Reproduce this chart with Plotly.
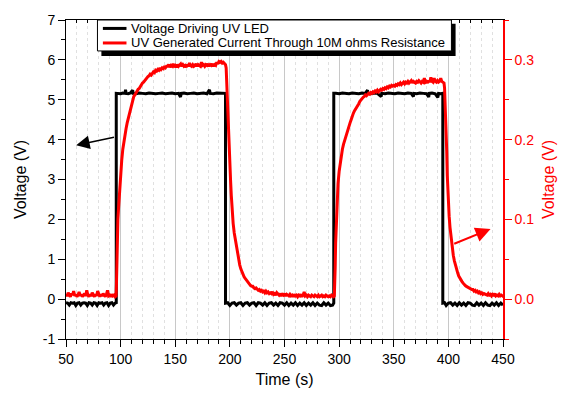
import plotly.graph_objects as go

# ---------------- data ----------------
volt_t = [50, 51.5, 53, 54.5, 56, 57.5, 59, 60.5, 62, 63.5, 65, 66.5, 68, 69.5, 71, 72.5, 74, 75.5,
          77, 78.5, 80, 81.5, 83, 84.5, 86, 87.5, 89, 90.5, 92, 93.5, 95, 96,
          96, 98, 100, 102, 104, 104.5, 105, 107, 109, 111, 111.5, 114, 117, 120, 123, 126, 129, 132,
          135, 138, 141, 144, 147, 150, 153, 154.8, 155.5, 158, 161, 164, 167, 170, 173, 176, 179,
          181.3, 182, 185, 188, 191, 194, 196,
          196, 198, 200, 202, 204, 206, 208, 210, 212, 214, 216, 218, 220, 222, 224, 226, 228, 230,
          232, 234, 236, 238, 240, 242, 244, 246, 248, 250, 252, 254, 256, 258, 260, 262, 264, 266,
          268, 270, 272, 274, 276, 278, 280, 282, 284, 286, 288, 290, 292, 294, 295.1,
          295.1, 297, 300, 303, 306, 309, 312, 315, 318, 321, 324, 326, 326.5, 329, 332, 335, 338.5,
          339, 342, 345, 348, 351, 354, 357, 360, 363, 366, 368, 368.5, 371, 374, 377, 380, 382,
          382.5, 385, 388, 390.3, 391, 393, 394.9,
          394.9, 396.5, 398, 400, 402, 404, 406, 408, 410, 412, 414, 416, 418, 420, 422, 424, 426,
          428, 430, 432, 434, 436, 438, 440, 442, 444, 446, 448, 450]
volt_v = [-0.09, -0.10, -0.15, -0.09, -0.10, -0.09, -0.16, -0.10, -0.09, -0.15, -0.10, -0.09, -0.10,
          -0.16, -0.09, -0.10, -0.15, -0.09, -0.10, -0.16, -0.09, -0.10, -0.09, -0.15, -0.10, -0.09,
          -0.16, -0.10, -0.09, -0.15, -0.10, -0.09,
          5.16, 5.16, 5.15, 5.17, 5.16, 5.25, 5.16, 5.15, 5.17, 5.24, 5.16, 5.15, 5.17, 5.16, 5.15,
          5.17, 5.16, 5.15, 5.16, 5.17, 5.15, 5.16, 5.17, 5.15, 5.16, 5.07, 5.16, 5.17, 5.15, 5.16,
          5.17, 5.15, 5.16, 5.17, 5.15, 5.25, 5.16, 5.15, 5.17, 5.16, 5.15, 5.16,
          -0.10, -0.09, -0.16, -0.10, -0.09, -0.15, -0.10, -0.09, -0.16, -0.10, -0.09, -0.15, -0.10,
          -0.09, -0.16, -0.09, -0.10, -0.15, -0.09, -0.16, -0.10, -0.09, -0.15, -0.10, -0.16, -0.09,
          -0.10, -0.15, -0.09, -0.16, -0.10, -0.15, -0.09, -0.16, -0.10, -0.15, -0.09, -0.16, -0.10,
          -0.15, -0.09, -0.16, -0.10, -0.15, -0.16, -0.09, -0.15, -0.10, -0.16, -0.15, -0.10,
          5.16, 5.16, 5.15, 5.17, 5.16, 5.15, 5.17, 5.16, 5.15, 5.17, 5.16, 5.24, 5.16, 5.15, 5.17,
          5.16, 5.08, 5.16, 5.15, 5.17, 5.16, 5.15, 5.17, 5.16, 5.15, 5.17, 5.16, 5.08, 5.16, 5.15,
          5.17, 5.16, 5.15, 5.07, 5.16, 5.17, 5.15, 5.06, 5.16, 5.15, 5.16,
          -0.10, -0.09, -0.16, -0.10, -0.09, -0.15, -0.10, -0.16, -0.09, -0.15, -0.10, -0.16, -0.09,
          -0.10, -0.15, -0.16, -0.09, -0.15, -0.10, -0.16, -0.09, -0.15, -0.16, -0.10, -0.15, -0.09,
          -0.16, -0.10, -0.15]

curr_t = [50, 51, 52, 53, 54, 55, 56, 57, 58, 59, 60, 61, 62, 63, 64, 65, 66, 67, 68, 69, 70, 71,
          72, 73, 74, 75, 76, 77, 78, 79, 80, 81, 82, 83, 84, 85, 86, 87, 88, 89, 90, 91, 92, 93, 94,
          95, 95.8,
          96.2, 96.6, 97, 97.5, 98, 98.5, 99, 99.6, 100.2, 101, 102, 103, 104, 105, 106, 107, 108,
          109, 110, 111, 112, 113, 114, 115, 116, 117, 118, 119, 120, 121, 122, 123, 124, 125, 126,
          127, 128, 129, 130, 131, 132, 133, 134, 135, 136, 137, 138, 139, 140, 141, 142,
          143, 144, 145, 146, 147, 148, 149, 150, 151, 152, 153, 154, 155, 156, 157, 158, 159, 160,
          161, 162, 163, 164, 165, 166, 167, 168, 169, 170, 171, 172, 173, 174, 175, 176, 177, 178,
          179, 180, 181, 182, 183, 184, 185, 186, 187, 188, 189, 190, 191, 192, 193, 194, 195, 196,
          196.6,
          197, 197.5, 198, 198.5, 199, 199.5, 200, 200.6, 201.3, 202, 203, 204, 205, 206, 207, 208,
          209, 210, 211, 212, 213, 214, 215, 216, 217, 218, 219, 220, 221, 222, 223, 224, 225, 226,
          227, 228, 229, 230, 231, 232, 233, 234, 235, 236, 237, 238, 239, 240,
          241, 242, 243, 244, 245, 246, 247, 248, 249, 250, 251, 252, 253, 254, 255, 256, 257, 258,
          259, 260, 261, 262, 263, 264, 265, 266, 267, 268, 269, 270, 271, 272, 273, 274, 275, 276,
          277, 278, 279, 280, 281, 282, 283, 284, 285, 286, 287, 288, 289, 290, 291, 292, 293, 294,
          295, 295.6,
          296, 296.4, 296.8, 297.3, 297.8, 298.2, 299, 300, 301, 302, 303, 304, 305, 306, 307, 308,
          309, 310, 311, 312, 313, 314, 315, 316, 317, 318, 319, 320, 321, 322, 323, 324, 325, 326,
          327, 328, 329, 330, 331, 332, 333, 334, 335, 336, 337, 338, 339, 340, 341, 342, 343, 344,
          345, 346, 347, 348, 349, 350, 351, 352, 353, 354, 355, 356, 357, 358, 359, 360,
          361, 362, 363, 364, 365, 366, 367, 368, 369, 370, 371, 372, 373, 374, 375, 376, 377, 378,
          379, 380, 381, 382, 383, 384, 385, 386, 387, 388, 389, 390, 391, 392, 393, 394, 395, 396,
          396.5,
          397, 397.5, 398, 398.5, 399, 399.5, 400, 400.7, 401.5, 402.5, 403.5, 404.5, 405.5, 406.5,
          407.5, 408.5, 409.5, 410.5, 411.5, 412.5, 413.5, 414.5, 415.5, 416.5, 417.5, 418.5, 419.5,
          420.5, 421.5, 422.5, 423.5, 424.5, 425.5, 426.5, 427.5, 428.5, 429.5, 430.5, 431.5, 432.5,
          433.5, 434.5, 435.5, 436.5, 437.5, 438.5, 439.5, 440.5, 441.5, 442.5, 443.5, 444.5, 445.5,
          446.5, 447.5, 448.5, 449.5, 450]
curr_i = [0.006, 0.004, 0.008, 0.005, 0.003, 0.007, 0.005, 0.010, 0.004, 0.006, 0.003, 0.005, 0.009,
          0.004, 0.006, 0.003, 0.005, 0.007, 0.004, 0.011, 0.005, 0.003, 0.006, 0.004, 0.008, 0.005,
          0.003, 0.006, 0.004, 0.010, 0.005, 0.003, 0.006, 0.004, 0.007, 0.004, 0.003, 0.006, 0.011,
          0.004, 0.005, 0.003, 0.006, 0.004, 0.005, 0.003, 0.004,
          0.020, 0.060, 0.085, 0.100, 0.112, 0.125, 0.140, 0.150, 0.160, 0.174, 0.188, 0.198, 0.207,
          0.214, 0.221, 0.227, 0.232, 0.238, 0.245, 0.250, 0.254, 0.256, 0.259, 0.261, 0.263, 0.264,
          0.267, 0.268, 0.271, 0.272, 0.274, 0.276, 0.277, 0.279, 0.280, 0.282, 0.281, 0.283, 0.285,
          0.284, 0.287, 0.286, 0.288, 0.287, 0.290, 0.288, 0.290, 0.289, 0.291, 0.290, 0.292,
          0.292, 0.294, 0.291, 0.293, 0.292, 0.295, 0.292, 0.293, 0.291, 0.294, 0.292, 0.293, 0.295,
          0.292, 0.294, 0.292, 0.293, 0.291, 0.294, 0.292, 0.296, 0.293, 0.292, 0.294, 0.292, 0.293,
          0.295, 0.292, 0.294, 0.293, 0.292, 0.297, 0.293, 0.294, 0.292, 0.294, 0.293, 0.295, 0.292,
          0.294, 0.293, 0.295, 0.292, 0.294, 0.293, 0.297, 0.295, 0.298, 0.297, 0.298, 0.296, 0.297,
          0.295, 0.294, 0.290,
          0.275, 0.255, 0.230, 0.210, 0.190, 0.175, 0.162, 0.150, 0.130, 0.112, 0.095, 0.083, 0.074,
          0.065, 0.056, 0.049, 0.043, 0.038, 0.034, 0.031, 0.028, 0.026, 0.024, 0.022, 0.020, 0.019,
          0.017, 0.016, 0.016, 0.014, 0.013, 0.014, 0.012, 0.011, 0.012, 0.010, 0.011, 0.009, 0.010,
          0.008, 0.010, 0.008, 0.009, 0.007, 0.008, 0.007, 0.009, 0.006,
          0.007, 0.005, 0.008, 0.006, 0.005, 0.007, 0.004, 0.006, 0.005, 0.007, 0.004, 0.006, 0.005,
          0.004, 0.006, 0.004, 0.005, 0.003, 0.006, 0.004, 0.005, 0.003, 0.005, 0.004, 0.006, 0.003,
          0.005, 0.009, 0.004, 0.005, 0.003, 0.005, 0.004, 0.003, 0.005, 0.004, 0.003, 0.005, 0.004,
          0.003, 0.005, 0.003, 0.004, 0.005, 0.003, 0.004, 0.003, 0.005, 0.004, 0.003, 0.004, 0.003,
          0.005, 0.004, 0.003, 0.004,
          0.015, 0.040, 0.070, 0.091, 0.110, 0.128, 0.145, 0.160, 0.172, 0.181, 0.188, 0.194, 0.199,
          0.204, 0.208, 0.212, 0.217, 0.221, 0.225, 0.230, 0.233, 0.236, 0.238, 0.241, 0.243, 0.245,
          0.248, 0.250, 0.251, 0.253, 0.254, 0.256, 0.255, 0.257, 0.258, 0.257, 0.259, 0.258, 0.260,
          0.259, 0.261, 0.260, 0.262, 0.260, 0.261, 0.263, 0.262, 0.264, 0.263, 0.265, 0.264, 0.266,
          0.265, 0.267, 0.266, 0.268, 0.267, 0.268, 0.267, 0.269, 0.268, 0.270, 0.269, 0.271, 0.269,
          0.270, 0.272, 0.270,
          0.272, 0.271, 0.273, 0.271, 0.272, 0.274, 0.271, 0.273, 0.272, 0.271, 0.273, 0.272, 0.274,
          0.272, 0.271, 0.273, 0.272, 0.277, 0.272, 0.273, 0.271, 0.274, 0.272, 0.278, 0.273, 0.272,
          0.277, 0.273, 0.272, 0.274, 0.272, 0.273, 0.277, 0.273, 0.272, 0.271, 0.265,
          0.250, 0.232, 0.212, 0.185, 0.155, 0.133, 0.118, 0.104, 0.090, 0.075, 0.064, 0.055, 0.048,
          0.042, 0.037, 0.033, 0.029, 0.026, 0.024, 0.022, 0.020, 0.018, 0.017, 0.016, 0.015, 0.014,
          0.013, 0.013, 0.012, 0.012, 0.010, 0.011, 0.009, 0.010, 0.008, 0.009, 0.007, 0.008, 0.006,
          0.007, 0.006, 0.006, 0.005, 0.007, 0.005, 0.006, 0.004, 0.006, 0.005, 0.007, 0.004, 0.005,
          0.004, 0.006, 0.004, 0.005, 0.004, 0.005]

x_ticks = [50, 100, 150, 200, 250, 300, 350, 400, 450]
y_left_ticks = [-1, 0, 1, 2, 3, 4, 5, 6, 7]
y_left_labels = ["-1", "0", "1", "2", "3", "4", "5", "6", "7"]
y_right_ticks = [0.0, 0.1, 0.2, 0.3]
y_right_labels = ["0.0", "0.1", "0.2", "0.3"]

legend_names = ["Voltage Driving UV LED", "UV Generated Current Through 10M ohms Resistance"]
FONT = "Liberation Sans, Arial, sans-serif"

fig = go.Figure()
fig.add_trace(go.Scatter(x=volt_t, y=volt_v, mode="lines", name=legend_names[0],
                         line=dict(color="black", width=3), showlegend=False))
fig.add_trace(go.Scatter(x=curr_t, y=curr_i, mode="lines", name=legend_names[1], yaxis="y2",
                         line=dict(color="#ff0000", width=3), showlegend=False))
# invisible trace to hold the top mirror axis
fig.add_trace(go.Scatter(x=[None], y=[None], xaxis="x2", showlegend=False, hoverinfo="skip"))

fig.update_layout(
    width=567, height=398,
    margin=dict(l=66, r=63, t=13, b=55),
    paper_bgcolor="white", plot_bgcolor="white",
    font=dict(family=FONT, size=14, color="black"),
    xaxis=dict(range=[50, 450], tickvals=x_ticks, ticks="outside", ticklen=7, tickcolor="black",
               showline=True, linecolor="black", linewidth=1, zeroline=False,
               showgrid=True, gridcolor="#c8c8c8", gridwidth=1,
               minor=dict(dtick=10, tick0=50, ticks="outside", ticklen=4, tickcolor="black",
                          showgrid=True, griddash="dot", gridcolor="#e0e0e0"),
               title=dict(text="Time (s)", font=dict(size=16), standoff=8)),
    xaxis2=dict(range=[50, 450], overlaying="x", side="top", anchor="y", tickvals=x_ticks,
                ticks="inside", ticklen=5, tickcolor="black", showticklabels=False,
                showline=True, linecolor="black", linewidth=1, showgrid=False, zeroline=False,
                minor=dict(dtick=10, tick0=50, ticks="inside", ticklen=3, tickcolor="black",
                           showgrid=False)),
    yaxis=dict(range=[-1, 7], tickvals=y_left_ticks, ticktext=y_left_labels, ticks="outside",
               ticklen=7, tickcolor="black",
               showline=True, linecolor="black", linewidth=1, zeroline=False, showgrid=False,
               minor=dict(dtick=0.5, tick0=0, ticks="outside", ticklen=4, tickcolor="black"),
               title=dict(text="Voltage (V)", font=dict(size=16), standoff=12)),
    yaxis2=dict(range=[-0.05, 0.35], overlaying="y", side="right", tickvals=y_right_ticks,
                ticktext=y_right_labels, ticks="outside", ticklen=7, tickcolor="#ff0000",
                tickfont=dict(color="#ff0000"), showline=True, linecolor="#ff0000", linewidth=1.5,
                zeroline=False, showgrid=False,
                minor=dict(dtick=0.05, tick0=0, ticks="outside", ticklen=4, tickcolor="#ff0000"),
                title=dict(text="Voltage (V)", font=dict(size=16, color="#ff0000"), standoff=10)),
)

# ---- hand-drawn legend box with drop shadow (paper coordinates) ----
bx0, bx1, by0, by1 = 0.072, 0.882, 0.903, 1.0
fig.add_shape(type="rect", xref="paper", yref="paper", x0=bx0 + 0.009, x1=bx1 + 0.0095,
              y0=by0 - 0.016, y1=by1 - 0.012, fillcolor="black", line=dict(width=0), layer="above")
fig.add_shape(type="rect", xref="paper", yref="paper", x0=bx0, x1=bx1, y0=by0, y1=by1,
              fillcolor="white", line=dict(color="black", width=1), layer="above")
rows_y = [0.9736, 0.928]
colors = ["black", "#ff0000"]
for name, yy, col in zip(legend_names, rows_y, colors):
    fig.add_shape(type="line", xref="paper", yref="paper", x0=0.0844, x1=0.1384, y0=yy, y1=yy,
                  line=dict(color=col, width=3), layer="above")
    fig.add_annotation(xref="paper", yref="paper", x=0.1453, y=yy, text=name, showarrow=False,
                       xanchor="left", yanchor="middle", font=dict(size=13, family=FONT))

# ---- arrows pointing to each axis ----
fig.add_annotation(x=59.3, y=3.86, ax=95.3, ay=4.07, xref="x", yref="y", axref="x", ayref="y",
                   text="", showarrow=True, arrowhead=2, arrowsize=1.8, arrowwidth=1.5,
                   arrowcolor="black")
fig.add_annotation(x=438.6, y=0.088, ax=404, ay=0.0687, xref="x", yref="y2", axref="x", ayref="y2",
                   text="", showarrow=True, arrowhead=2, arrowsize=1.5, arrowwidth=2,
                   arrowcolor="#ff0000")

fig.write_html("out.html")
